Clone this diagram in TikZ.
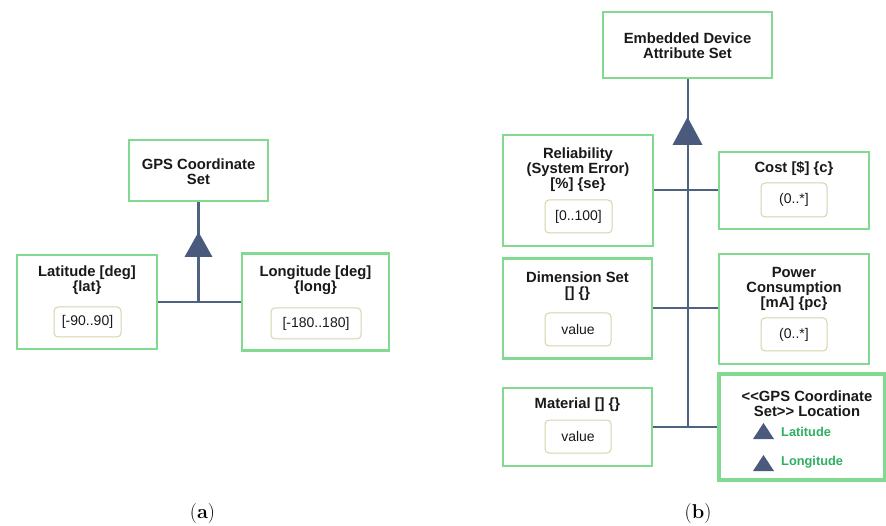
\documentclass[tikz,border=0pt]{standalone}
\usepackage{fontspec}
\setsansfont{Liberation Sans}[Ligatures=TeXOff]
\definecolor{boxgreen}{RGB}{130,218,145}
\definecolor{linecol}{RGB}{80,98,130}
\definecolor{tricol}{RGB}{74,90,124}
\definecolor{valborder}{RGB}{216,210,172}
\definecolor{textgreen}{RGB}{46,176,96}
\definecolor{textdark}{RGB}{25,25,25}
\begin{document}
\begin{tikzpicture}[x=1pt,y=-1pt,
  box/.style={draw=boxgreen, line width=2.4pt, fill=white, inner sep=0pt},
  thickbox/.style={box, line width=4.5pt},
  title/.style={font=\sffamily\bfseries\fontsize{14.8}{15}\selectfont, align=center, text=textdark, inner sep=0pt},
  valbox/.style={draw=valborder, line width=1pt, rounded corners=4pt, fill=white,
    font=\sffamily\fontsize{14}{15}\selectfont, text=textdark, inner sep=0pt},
  conn/.style={draw=linecol, line width=2.2pt},
  gentri/.style={fill=tricol},
  member/.style={font=\sffamily\bfseries\fontsize{12.8}{14}\selectfont, text=textgreen, anchor=west, inner sep=0pt},
  caption/.style={font=\fontsize{20}{22}\selectfont, inner sep=0pt}
]
\useasboundingbox (0,0) rectangle (886,526);

% ---------- (a) GPS coordinate set ----------
\node[box, minimum width=139pt, minimum height=61pt] (gps) at (198.5,170.5) {};
\node[title] (gpsT) at (198.5,171.5) {GPS Coordinate\\Set};

\node[box, minimum width=140pt, minimum height=94pt] (lat) at (87,302) {};
\node[title] (latT) at (87,280) {Latitude [deg]\\\{lat\}};
\node[valbox, minimum width=67pt, minimum height=30pt] (latV) at (87.5,322) {[-90..90]};

\node[box, minimum width=147pt, minimum height=97pt] (lon) at (315.5,302) {};
\node[title] (lonT) at (315.5,280) {Longitude [deg]\\\{long\}};
\node[valbox, minimum width=90pt, minimum height=31pt] (lonV) at (316,323.5) {[-180..180]};

\coordinate (ja) at (gps.south |- lat.east);
\draw[conn] (lat.east) -- (lat.east -| lon.west);
\draw[conn] (gps.south) -- (ja);
\fill[gentri] (198.5,232) -- (212.5,257) -- (184.5,257) -- cycle;

% ---------- (b) embedded device attribute set ----------
\node[box, minimum width=169pt, minimum height=66pt] (emb) at (687.5,45) {};
\node[title] (embT) at (687.5,45.5) {Embedded Device\\Attribute Set};

\node[box, minimum width=150pt, minimum height=111pt] (rel) at (578,190.5) {};
\node[title] (relT) at (578,169.5) {Reliability\\(System Error)\\{}[\%] \{se\}};
\node[valbox, minimum width=67pt, minimum height=33pt] (relV) at (578.5,216.5) {[0..100]};

\node[box, minimum width=150pt, minimum height=77pt] (cost) at (794,190.5) {};
\node[title] (costT) at (794,169) {Cost [\$] \{c\}};
\node[valbox, minimum width=66pt, minimum height=34pt] (costV) at (794,200) {(0..*]};

\node[box, minimum width=149pt, minimum height=100pt] (dim) at (577.5,308.5) {};
\node[title] (dimT) at (577.5,286.5) {Dimension Set\\{}[] \{\}};
\node[valbox, minimum width=66pt, minimum height=33pt] (dimV) at (578,329.5) {value};

\node[box, minimum width=150pt, minimum height=110pt] (pow) at (794,309) {};
\node[title] (powT) at (794,289) {Power\\Consumption\\{}[mA] \{pc\}};
\node[valbox, minimum width=66pt, minimum height=33pt] (powV) at (794,334.5) {(0..*]};

\node[box, minimum width=149pt, minimum height=78pt] (mat) at (577.5,427) {};
\node[title] (matT) at (577.5,405) {Material [] \{\}};
\node[valbox, minimum width=66pt, minimum height=33pt] (matV) at (578,436.5) {value};

\node[thickbox, minimum width=166pt, minimum height=106pt] (loc) at (802,427) {};
\node[title] (locT) at (807,403.5) {<<GPS Coordinate\\Set>> Location};
\fill[gentri] (763.5,423) -- (774,439) -- (753,439) -- cycle;
\node[member] (locLat) at (781,432) {Latitude};
\fill[gentri] (763.5,455) -- (774,471) -- (753,471) -- cycle;
\node[member] (locLon) at (781,462.5) {Longitude};

\coordinate (jb) at (emb.south |- mat.east);
\draw[conn, line width=2pt] (emb.south) -- (jb);
\draw[conn, line width=2pt] (rel.east) -- (rel.east -| cost.west);
\draw[conn, line width=2pt] (dim.east) -- (dim.east -| pow.west);
\draw[conn, line width=2pt] (mat.east) -- (mat.east -| loc.west);
\fill[gentri] (687.5,117) -- (702.5,145) -- (672.5,145) -- cycle;

% ---------- captions ----------
\node[caption] (capA) at (202.5,514) {(\textbf{a})};
\node[caption] (capB) at (698,514) {(\textbf{b})};
\end{tikzpicture}
\end{document}
